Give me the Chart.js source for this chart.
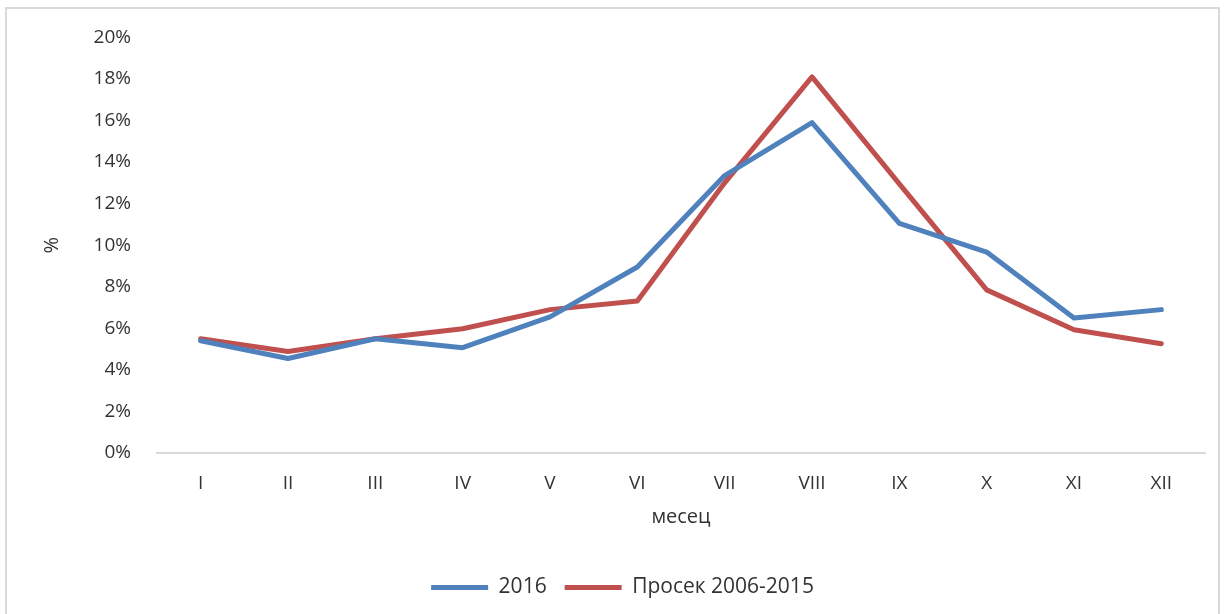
<!DOCTYPE html>
<html>
<head>
<meta charset="utf-8">
<script src="https://cdn.jsdelivr.net/npm/chart.js@4/dist/chart.umd.min.js"></script>
<style>
  html, body { margin: 0; padding: 0; background: #fff; overflow: hidden; }
  #wrap { position: relative; width: 1227px; height: 614px; }
  #frame {
    position: absolute; left: 5px; top: 7px; width: 1215px; height: 640px;
    border: 2px solid #d9d9d9; box-sizing: border-box;
  }
  canvas { position: absolute; left: 0; top: 0; }
</style>
</head>
<body>
<div id="wrap">
  <div id="frame"></div>
  <canvas id="chart" width="1227" height="614"></canvas>
</div>
<script>
// months (Roman numerals) and monthly share in %
const months = ['I', 'II', 'III', 'IV', 'V', 'VI', 'VII', 'VIII', 'IX', 'X', 'XI', 'XII']
const values2016 = [5.4, 4.55, 5.5, 5.07, 6.55, 8.95, 13.35, 15.9, 11.05, 9.67, 6.5, 6.9]
const valuesAvg = [5.5, 4.88, 5.5, 5.98, 6.9, 7.32, 13.0, 18.1, 12.95, 7.85, 5.93, 5.26]
const seriesNames = ['2016', 'Просек 2006-2015']

const FONT = "'Open Sans', sans-serif"
const textColor = '#333333'
const blue = '#4f81bd'
const red = '#c0504d'

const ctx = document.getElementById('chart').getContext('2d')

new Chart(ctx, {
  type: 'line',
  data: {
    labels: months,
    datasets: [
      { label: seriesNames[0], data: values2016, borderColor: blue, backgroundColor: blue },
      { label: seriesNames[1], data: valuesAvg, borderColor: red, backgroundColor: red }
    ]
  },
  options: {
    responsive: false,
    animation: false,
    elements: {
      line: { borderWidth: 5, tension: 0, borderCapStyle: 'round', borderJoinStyle: 'round' },
      point: { radius: 0, hoverRadius: 0 }
    },
    layout: { padding: { left: 40, top: 27, right: 22, bottom: 6 } },
    scales: {
      x: {
        offset: true,
        grid: { display: false, drawTicks: false, offset: true },
        border: { display: true, color: '#d9d9d9', width: 2 },
        ticks: { color: textColor, font: { family: FONT, size: 19 }, padding: 19, maxRotation: 0 },
        title: {
          display: true, text: 'месец', color: textColor,
          font: { family: FONT, size: 20 }, padding: { top: 0, bottom: 30 }
        },
        afterFit: (s) => { s.height = 106 }
      },
      y: {
        min: 0, max: 20,
        grid: { display: false, drawTicks: false },
        border: { display: false },
        ticks: {
          stepSize: 2, color: textColor, padding: 26,
          font: { family: FONT, size: 19 },
          callback: (v) => v + '%'
        },
        title: {
          display: true, text: '%', color: textColor,
          font: { family: FONT, size: 20 }, padding: { top: 0, bottom: 0 }
        },
        afterFit: (s) => { s.width = 117 }
      }
    },
    plugins: {
      legend: {
        position: 'bottom',
        labels: {
          color: textColor,
          font: { family: FONT, size: 21 },
          boxWidth: 57,
          boxHeight: 5,
          padding: 18,
          generateLabels: (chart) => chart.data.datasets.map((ds, i) => ({
            text: ds.label,
            fillStyle: ds.borderColor,
            strokeStyle: ds.borderColor,
            lineWidth: 0,
            fontColor: textColor,
            datasetIndex: i
          }))
        }
      },
      tooltip: { enabled: false }
    }
  }
})
</script>
</body>
</html>
